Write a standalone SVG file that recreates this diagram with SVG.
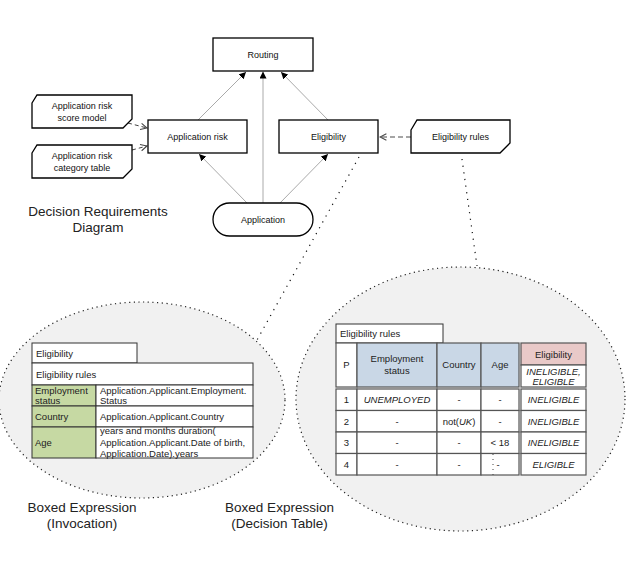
<svg xmlns="http://www.w3.org/2000/svg" width="629" height="567" viewBox="0 0 629 567">
<style>
text{font-family:"Liberation Sans",Arial,sans-serif;fill:#111}
.n{font-size:9px}
.lbl{font-size:13.5px;fill:#222}
.t{font-size:9.5px;fill:#222}
.it{font-style:italic}
.node{fill:#fff;stroke:#000;stroke-width:1.3}
.ell{fill:#f1f1f1;stroke:#222;stroke-width:1.2;stroke-dasharray:1.2 3.5}
.dot{fill:none;stroke:#111;stroke-width:1.2;stroke-dasharray:1.2 5.5}
.info{fill:none;stroke:#aaa;stroke-width:1}
.kr{fill:none;stroke:#444;stroke-width:1;stroke-dasharray:4 3}
.kr2{fill:none;stroke:#888;stroke-width:1.6;stroke-dasharray:5 3}
.c1{stroke:#333;stroke-width:1}
.c2{stroke:#555;stroke-width:1.2}
.w{fill:#fff}
.g{fill:#c6d9a3}
.b{fill:#c9d7e6}
.p{fill:#e9c9c8}
</style>
<defs>
<marker id="fa" viewBox="0 0 10 10" refX="10" refY="5" markerWidth="7" markerHeight="7" markerUnits="userSpaceOnUse" orient="auto">
<path d="M0,0 L10,5 L0,10 Z" fill="#000"/>
</marker>
<marker id="oa" viewBox="0 0 10 10" refX="9" refY="5" markerWidth="8" markerHeight="8" markerUnits="userSpaceOnUse" orient="auto">
<path d="M1,1 L9,5 L1,9" fill="none" stroke="#444" stroke-width="1.3"/>
</marker>
</defs>

<g id="ellipses">
<ellipse class="ell" cx="142" cy="400" rx="143" ry="98"/>
<ellipse class="ell" cx="460.5" cy="399" rx="164.5" ry="132"/>
</g>

<g id="connectors">
<line class="info" x1="198" y1="120" x2="246" y2="72" marker-end="url(#fa)"/>
<line class="info" x1="263" y1="203" x2="263" y2="71.5" marker-end="url(#fa)"/>
<line class="info" x1="328" y1="120" x2="281" y2="72" marker-end="url(#fa)"/>
<line class="info" x1="247" y1="203" x2="199" y2="154" marker-end="url(#fa)"/>
<line class="info" x1="280" y1="203" x2="328" y2="154" marker-end="url(#fa)"/>
<line class="kr" x1="128" y1="123" x2="147" y2="128" marker-end="url(#oa)"/>
<line class="kr" x1="132" y1="150" x2="147" y2="146" marker-end="url(#oa)"/>
<line class="kr2" x1="411" y1="137" x2="380" y2="137" marker-end="url(#oa)"/>
<line class="dot" x1="359" y1="157" x2="257" y2="340"/>
<line class="dot" x1="462" y1="159" x2="477" y2="266"/>
</g>

<g id="routing">
<rect class="node" x="213" y="38" width="100" height="33"/>
<text class="n" x="263" y="57.5" text-anchor="middle">Routing</text>
</g>
<g id="application-risk">
<rect class="node" x="148" y="120" width="99" height="33"/>
<text class="n" x="197.5" y="139.5" text-anchor="middle">Application risk</text>
</g>
<g id="eligibility">
<rect class="node" x="279" y="120" width="99" height="33"/>
<text class="n" x="328.5" y="139.5" text-anchor="middle">Eligibility</text>
</g>
<g id="eligibility-rules">
<path class="node" d="M411,130 L417,120 L510,120 L510,143 L500,153 L411,153 Z"/>
<text class="n" x="460.5" y="140" text-anchor="middle">Eligibility rules</text>
</g>
<g id="score-model">
<path class="node" d="M32,103 L37,95 L132,95 L132,119 L123,128 L32,128 Z"/>
<text class="n" x="82" y="109" text-anchor="middle">Application risk</text>
<text class="n" x="82" y="120.5" text-anchor="middle">score model</text>
</g>
<g id="category-table">
<path class="node" d="M32,153 L37,145 L132,145 L132,169 L123,178 L32,178 Z"/>
<text class="n" x="82" y="159" text-anchor="middle">Application risk</text>
<text class="n" x="82" y="170.5" text-anchor="middle">category table</text>
</g>
<g id="application">
<rect class="node" x="213" y="203" width="100" height="33" rx="16.5" ry="16.5"/>
<text class="n" x="263" y="222.5" text-anchor="middle">Application</text>
</g>

<g id="drd-label">
<text class="lbl" x="98" y="216" text-anchor="middle">Decision Requirements</text>
<text class="lbl" x="98" y="232" text-anchor="middle">Diagram</text>
</g>

<g id="invocation">
<rect class="w c1" x="32" y="343" width="105" height="20"/>
<text class="t" x="36" y="356.5">Eligibility</text>
<rect class="w c1" x="32" y="363" width="221" height="22"/>
<text class="t" x="36" y="377.5">Eligibility rules</text>
<rect class="g c1" x="32" y="385" width="64" height="21"/>
<rect class="w c1" x="96" y="385" width="157" height="21"/>
<text class="t" x="35" y="393.5">Employment</text>
<text class="t" x="35" y="404">status</text>
<text class="t" x="100" y="393.5">Application.Applicant.Employment.</text>
<text class="t" x="100" y="404">Status</text>
<rect class="g c1" x="32" y="406" width="64" height="21"/>
<rect class="w c1" x="96" y="406" width="157" height="21"/>
<text class="t" x="35" y="420">Country</text>
<text class="t" x="100" y="420">Application.Applicant.Country</text>
<rect class="g c1" x="32" y="427" width="64" height="31"/>
<rect class="w c1" x="96" y="427" width="157" height="31"/>
<text class="t" x="35" y="446">Age</text>
<text class="t" x="100" y="434">years and months duration(</text>
<text class="t" x="100" y="445.5">Application.Applicant.Date of birth,</text>
<text class="t" x="100" y="456.5">Application.Date).years</text>
</g>
<g id="invocation-label">
<text class="lbl" x="82" y="512" text-anchor="middle">Boxed Expression</text>
<text class="lbl" x="82" y="528" text-anchor="middle">(Invocation)</text>
</g>

<g id="decision-table">
<rect class="w c1" x="336" y="324" width="107" height="19"/>
<text class="t" x="340" y="337">Eligibility rules</text>
<rect class="w c2" x="336" y="343" width="21" height="44"/>
<rect class="b c2" x="357" y="343" width="80" height="44"/>
<rect class="b c2" x="437" y="343" width="44" height="44"/>
<rect class="b c2" x="481" y="343" width="38" height="44"/>
<rect class="p c2" x="521" y="343" width="65" height="22"/>
<rect class="w c2" x="521" y="365" width="65" height="22"/>
<text class="t" x="346.5" y="368" text-anchor="middle">P</text>
<text class="t" x="397" y="362" text-anchor="middle">Employment</text>
<text class="t" x="397" y="374" text-anchor="middle">status</text>
<text class="t" x="459" y="368" text-anchor="middle">Country</text>
<text class="t" x="500" y="368" text-anchor="middle">Age</text>
<text class="t" x="553.5" y="358" text-anchor="middle">Eligibility</text>
<text class="t it" x="553.5" y="375" text-anchor="middle">INELIGIBLE,</text>
<text class="t it" x="553.5" y="384.5" text-anchor="middle">ELIGIBLE</text>

<rect class="w c2" x="336" y="389" width="21" height="21.5"/>
<rect class="w c2" x="357" y="389" width="80" height="21.5"/>
<rect class="w c2" x="437" y="389" width="44" height="21.5"/>
<rect class="w c2" x="481" y="389" width="38" height="21.5"/>
<rect class="w c2" x="521" y="389" width="65" height="21.5"/>
<text class="t" x="346.5" y="403" text-anchor="middle">1</text>
<text class="t it" x="397" y="403" text-anchor="middle">UNEMPLOYED</text>
<text class="t" x="459" y="403" text-anchor="middle">-</text>
<text class="t" x="500" y="403" text-anchor="middle">-</text>
<text class="t it" x="553.5" y="403" text-anchor="middle">INELIGIBLE</text>

<rect class="w c2" x="336" y="410.5" width="21" height="21.5"/>
<rect class="w c2" x="357" y="410.5" width="80" height="21.5"/>
<rect class="w c2" x="437" y="410.5" width="44" height="21.5"/>
<rect class="w c2" x="481" y="410.5" width="38" height="21.5"/>
<rect class="w c2" x="521" y="410.5" width="65" height="21.5"/>
<text class="t" x="346.5" y="424.5" text-anchor="middle">2</text>
<text class="t" x="397" y="424.5" text-anchor="middle">-</text>
<text class="t" x="459" y="424.5" text-anchor="middle">not(<tspan class="it">UK</tspan>)</text>
<text class="t" x="500" y="424.5" text-anchor="middle">-</text>
<text class="t it" x="553.5" y="424.5" text-anchor="middle">INELIGIBLE</text>

<rect class="w c2" x="336" y="432" width="21" height="21.5"/>
<rect class="w c2" x="357" y="432" width="80" height="21.5"/>
<rect class="w c2" x="437" y="432" width="44" height="21.5"/>
<rect class="w c2" x="481" y="432" width="38" height="21.5"/>
<rect class="w c2" x="521" y="432" width="65" height="21.5"/>
<text class="t" x="346.5" y="446" text-anchor="middle">3</text>
<text class="t" x="397" y="446" text-anchor="middle">-</text>
<text class="t" x="459" y="446" text-anchor="middle">-</text>
<text class="t" x="500" y="446" text-anchor="middle">&lt; 18</text>
<text class="t it" x="553.5" y="446" text-anchor="middle">INELIGIBLE</text>

<rect class="w c2" x="336" y="453.5" width="21" height="21.5"/>
<rect class="w c2" x="357" y="453.5" width="80" height="21.5"/>
<rect class="w c2" x="437" y="453.5" width="44" height="21.5"/>
<rect class="w c2" x="481" y="453.5" width="38" height="21.5"/>
<rect class="w c2" x="521" y="453.5" width="65" height="21.5"/>
<text class="t" x="346.5" y="467.5" text-anchor="middle">4</text>
<text class="t" x="397" y="467.5" text-anchor="middle">-</text>
<text class="t" x="459" y="467.5" text-anchor="middle">-</text>
<line x1="493" y1="454" x2="493" y2="477" stroke="#444" stroke-width="1" stroke-dasharray="1 4"/>
<text class="t" x="498" y="467.5" text-anchor="middle">-</text>
<text class="t it" x="553.5" y="467.5" text-anchor="middle">ELIGIBLE</text>
</g>
<g id="decision-table-label">
<text class="lbl" x="279.5" y="512" text-anchor="middle">Boxed Expression</text>
<text class="lbl" x="279.5" y="528" text-anchor="middle">(Decision Table)</text>
</g>
</svg>
